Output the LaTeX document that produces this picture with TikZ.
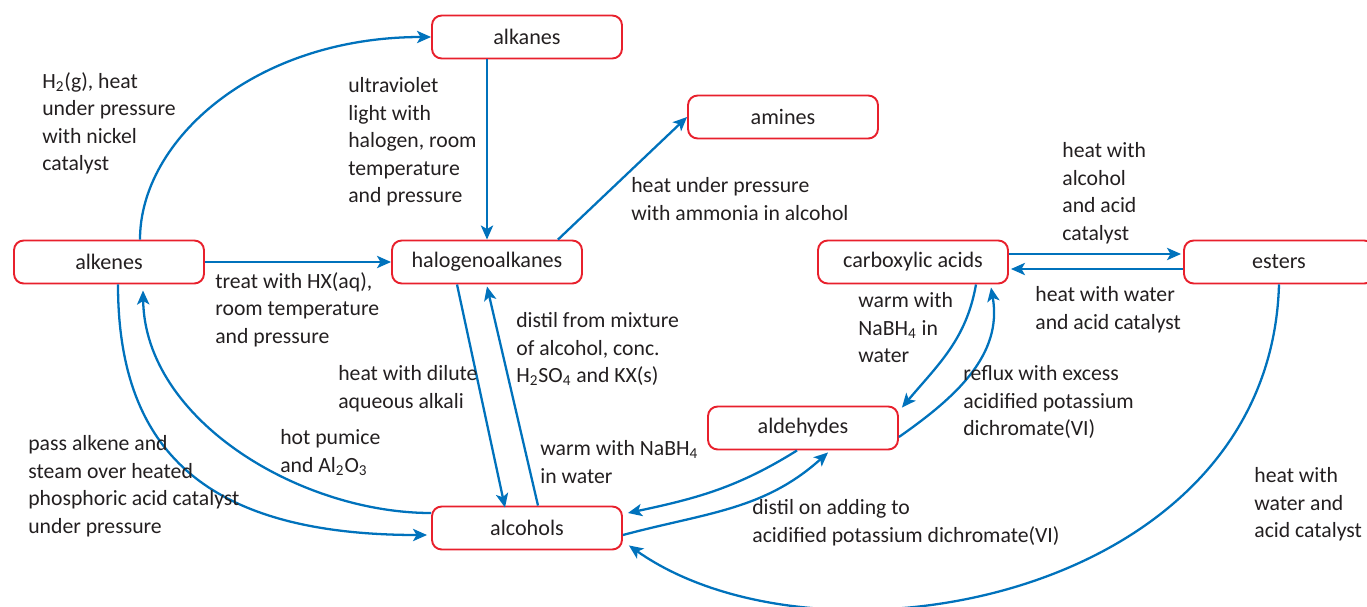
\documentclass[tikz,border=0pt]{standalone}
\usepackage{fontspec}
\setmainfont{Carlito}
\usetikzlibrary{arrows.meta,calc}
\definecolor{linkblue}{RGB}{0,114,188}
\definecolor{boxred}{RGB}{232,32,44}
\definecolor{ink}{RGB}{35,31,32}
\tikzset{
	cmpd/.style={draw=boxred, line width=1.1pt, rounded corners=5.5pt, minimum width=3.8cm, minimum height=0.86cm, text=ink, font=\fontsize{12.6}{15.7}\selectfont},
	link/.style={linkblue, line width=1.3pt, -{Stealth[length=8pt,width=7pt,inset=2pt]}},
	cond/.style={anchor=north west, align=left, inner sep=0pt, text=ink, font=\fontsize{12.35}{15.7}\selectfont}
}

\begin{document}
\begin{tikzpicture}[x=0.02cm, y=0.02cm]
	\useasboundingbox (0,0) rectangle (1367,-606);
	% the compounds
	\node[cmpd] (alkanes) at (527,-37) {alkanes};
	\node[cmpd] (amines) at (783,-117) {amines};
	\node[cmpd] (alkenes) at (109,-262) {alkenes};
	\node[cmpd] (haloalk) at (487,-262) {halogenoalkanes};
	\node[cmpd] (carbacid) at (913,-262) {carboxylic acids};
	\node[cmpd] (esters) at (1279,-262) {esters};
	\node[cmpd] (aldehydes) at (803,-428) {aldehydes};
	\node[cmpd] (alcohols) at (527,-528) {alcohols};

	% the reactions
	\draw[link] ($(alkenes.north)+(31,0)$) .. controls (140,-140) and (255,-37) .. (alkanes.west);
	\draw[link] ($(alkanes.south)+(-40,0)$) -- (haloalk.north);
	\draw[link] ($(haloalk.north)+(71,0)$) -- (amines.west);
	\draw[link] (alkenes.east) -- (haloalk.west);
	\draw[link] ($(haloalk.south)+(-30,0)$) -- ($(alcohols.north)+(-22,-2)$);
	\draw[link] ($(alcohols.north)+(11,0)$) -- ($(haloalk.south)+(0,-2)$);
	\draw[link] ($(alkenes.south)+(9,0)$) .. controls (118,-450) and (205,-535) .. ($(alcohols.west)+(-4,-7)$);
	\draw[link] ($(alcohols.west)+(0,15)$) .. controls (300,-513) and (145,-420) .. ($(alkenes.south)+(34,-6)$);
	\draw[link] ($(carbacid.east)+(0,8)$) -- ($(esters.west)+(-2,8)$);
	\draw[link] ($(esters.west)+(0,-7)$) -- ($(carbacid.east)+(2,-7)$);
	\draw[link] ($(carbacid.south)+(63,0)$) to[out=-100, in=50] ($(aldehydes.north east)+(3,-2)$);
	\draw[link] ($(aldehydes.east)+(0,-9)$) to[out=35, in=-80] ($(carbacid.south)+(78,-3)$);
	\draw[link] ($(aldehydes.south)+(-6,0)$) to[out=212, in=12] ($(alcohols.east)+(5,15)$);
	\draw[link] ($(alcohols.east)+(0,-7)$) to[out=15, in=222] ($(aldehydes.south)+(25,-2)$);
	\draw[link] (esters.south) .. controls (1270,-600) and (820,-680) .. ($(alcohols.south east)+(6,5)$);

	% the conditions
	\node[cond] (c1) at (42,-72) {H\textsubscript{2}(g), heat\\under pressure\\with nickel\\catalyst};
	\node[cond] (c2) at (348,-77) {ultraviolet\\light with\\halogen, room\\temperature\\and pressure};
	\node[cond] (c3) at (631,-177) {heat under pressure\\with ammonia in alcohol};
	\node[cond] (c4) at (1062,-142) {heat with\\alcohol\\and acid\\catalyst};
	\node[cond] (c5) at (215,-272) {treat with HX(aq),\\room temperature\\and pressure};
	\node[cond] (c6) at (1035,-286) {heat with water\\and acid catalyst};
	\node[cond] (c7) at (858,-292) {warm with\\NaBH\textsubscript{4} in\\water};
	\node[cond] (c8) at (516,-312) {distil from mixture\\of alcohol, conc.\\H\textsubscript{2}SO\textsubscript{4} and KX(s)};
	\node[cond] (c9) at (338,-365) {heat with dilute\\aqueous alkali};
	\node[cond] (c10) at (963,-365) {reflux with excess\\acidified potassium\\dichromate(VI)};
	\node[cond] (c11) at (280,-429) {hot pumice\\and Al\textsubscript{2}O\textsubscript{3}};
	\node[cond] (c12) at (28,-435) {pass alkene and\\steam over heated\\phosphoric acid catalyst\\under pressure};
	\node[cond] (c13) at (540,-440) {warm with NaBH\textsubscript{4}\\in water};
	\node[cond] (c14) at (752,-499) {distil on adding to\\acidified potassium dichromate(VI)};
	\node[cond] (c15) at (1254,-467) {heat with\\water and\\acid catalyst};
\end{tikzpicture}
\end{document}
